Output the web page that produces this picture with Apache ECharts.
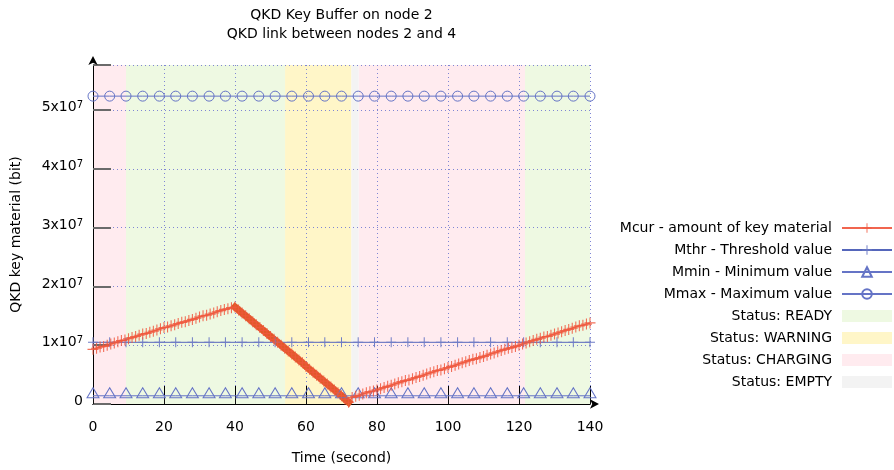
<!DOCTYPE html>
<html>
<head>
<meta charset="utf-8">
<script src="https://cdn.jsdelivr.net/npm/echarts@6/dist/echarts.min.js"></script>
<style>
  html, body { margin: 0; padding: 0; background: #fff; }
  #chart { width: 894px; height: 470px; }
</style>
</head>
<body>
<div id="chart"></div>
<script>
// values in Mbit (1e6 bit); Mcur sampled once per second, t = 0..140
const mcur = [
  9.3, 9.5, 9.7, 9.8, 10.0, 10.2, 10.4, 10.6, 10.8, 10.9,
  11.1, 11.3, 11.5, 11.7, 11.9, 12.0, 12.2, 12.4, 12.6, 12.8,
  13.0, 13.1, 13.3, 13.5, 13.7, 13.9, 14.0, 14.2, 14.4, 14.6,
  14.8, 15.0, 15.1, 15.3, 15.5, 15.7, 15.9, 16.1, 16.2, 16.4,
  16.5, 16.0, 15.5, 15.0, 14.5, 14.0, 13.5, 13.0, 12.5, 12.0,
  11.5, 11.0, 10.5, 10.0, 9.5, 9.0, 8.5, 8.0, 7.5, 7.0,
  6.4, 5.9, 5.4, 4.9, 4.4, 3.9, 3.4, 2.9, 2.4, 1.9,
  1.4, 0.8, 0.3, 1.1, 1.3, 1.5, 1.7, 1.9, 2.1, 2.2,
  2.4, 2.6, 2.8, 3.0, 3.2, 3.4, 3.6, 3.8, 4.0, 4.1,
  4.3, 4.5, 4.7, 4.9, 5.1, 5.3, 5.5, 5.7, 5.8, 6.0,
  6.2, 6.4, 6.6, 6.8, 7.0, 7.2, 7.4, 7.6, 7.7, 7.9,
  8.1, 8.3, 8.5, 8.7, 8.9, 9.1, 9.3, 9.5, 9.6, 9.8,
  10.0, 10.2, 10.4, 10.6, 10.8, 11.0, 11.2, 11.4, 11.5, 11.7,
  11.9, 12.1, 12.3, 12.5, 12.7, 12.9, 13.1, 13.3, 13.4, 13.6,
  13.8
];
const drainStart = 40;
const drainEnd = 72;

const mthr = 10.5;
const mmin = 1.4;
const mmax = 52.4;
const markTimes = [0, 4.7, 9.3, 14, 18.7, 23.3, 28, 32.7, 37.3, 42, 46.7, 51.3, 56, 60.7, 65.3,
  70, 74.7, 79.3, 84, 88.7, 93.3, 98, 102.7, 107.3, 112, 116.7, 121.3, 126, 130.7, 135.3, 140];

const readyIntervals = [[9.3, 54.1], [121.7, 140]];
const warningIntervals = [[54.1, 72.8]];
const chargingIntervals = [[0, 9.3], [74.8, 121.7]];
const emptyIntervals = [[72.8, 74.8]];

const yMax = 57.7;

const NAME_MCUR = 'Mcur - amount of key material';
const NAME_MTHR = 'Mthr - Threshold value';
const NAME_MMIN = 'Mmin - Minimum value';
const NAME_MMAX = 'Mmax - Maximum value';

const crossPath = 'path://M4.5,0h1v4.5h4.5v1h-4.5v4.5h-1v-4.5h-4.5v-1h4.5z';
const font = 'DejaVu Sans';
const fs = 14;

const mcurData = mcur.map((v, t) => [t, v]);
const drainData = mcurData.slice(drainStart, drainEnd + 1);
const constLine = v => markTimes.map(t => [t, v]);

function bandSeries(name, color, intervals) {
  return {
    name: name,
    type: 'line',
    data: [],
    z: 0,
    color: color,
    markArea: {
      z: 0,
      silent: true,
      itemStyle: { color: color },
      data: intervals.map(iv => [{ xAxis: iv[0] }, { xAxis: iv[1] }])
    }
  };
}

// tick-only axes shifted 9px into the plot, so their outward ticks end on the frame
function tickXAxis(position, color) {
  return {
    type: 'value', position: position, offset: -9, min: 0, max: 140, interval: 20, z: 3,
    axisLine: { show: false },
    axisTick: { show: true, length: 9, lineStyle: { color: color, width: 1 } },
    axisLabel: { show: false }, splitLine: { show: false }
  };
}
function tickYAxis(position, color) {
  return {
    type: 'value', position: position, offset: -9, min: 0, max: yMax, interval: 10, z: 1,
    axisLine: { show: false },
    axisTick: { show: true, length: 9, lineStyle: { color: color, width: 2 } },
    axisLabel: { show: false }, splitLine: { show: false }
  };
}

const chart = echarts.init(document.getElementById('chart'), null, { renderer: 'canvas' });

const gridLine = () => ({ show: true, lineStyle: { color: '#7f86d4', type: [1, 3], width: 1 } });
const arrowLine = () => ({ show: true, symbol: ['none', 'arrow'], symbolSize: [7, 9], symbolOffset: [0, 9], lineStyle: { color: '#000', width: 1 } });

chart.setOption({
  animation: false,
  textStyle: { fontFamily: font },
  title: {
    text: 'QKD Key Buffer on node 2\nQKD link between nodes 2 and 4',
    left: 341.5,
    top: 6,
    padding: 0,
    textAlign: 'center',
    textStyle: { fontSize: fs, fontWeight: 'normal', color: '#000', lineHeight: 19, fontFamily: font }
  },
  legend: {
    orient: 'vertical',
    right: 1,
    top: 221,
    padding: 0,
    align: 'right',
    itemWidth: 50,
    itemHeight: 12,
    itemGap: 8,
    textStyle: { fontSize: fs, color: '#000', fontFamily: font, padding: [0, 5, 0, 0] },
    data: [
      NAME_MCUR, NAME_MTHR, NAME_MMIN, NAME_MMAX,
      { name: 'Status: READY', icon: 'rect' },
      { name: 'Status: WARNING', icon: 'rect' },
      { name: 'Status: CHARGING', icon: 'rect' },
      { name: 'Status: EMPTY', icon: 'rect' }
    ]
  },
  grid: { left: 93, right: 304, top: 65, bottom: 65 },
  xAxis: [{
    type: 'value',
    position: 'bottom',
    min: 0, max: 140, interval: 20,
    z: 1,
    name: 'Time (second)',
    nameLocation: 'middle',
    nameGap: 47,
    nameTextStyle: { fontSize: fs, color: '#000', fontFamily: font },
    axisLine: arrowLine(),
    axisTick: { show: false },
    axisLabel: { fontSize: fs, color: '#000', margin: 16 },
    splitLine: gridLine()
  }, {
    type: 'value',
    position: 'top',
    min: 0, max: 140, interval: 20,
    z: 1,
    axisLine: { show: true, lineStyle: { color: '#000', width: 1 } },
    axisTick: { show: false },
    axisLabel: { show: false },
    splitLine: { show: false }
  },
  tickXAxis('bottom', '#111'),
  tickXAxis('top', '#000')],
  yAxis: [{
    type: 'value',
    position: 'left',
    min: 0, max: yMax, interval: 10,
    z: 1,
    name: 'QKD key material (bit)',
    nameLocation: 'middle',
    nameGap: 70,
    nameTextStyle: { fontSize: fs, color: '#000', fontFamily: font },
    axisLine: arrowLine(),
    axisTick: { show: false },
    axisLabel: {
      showMaxLabel: false,
      margin: 10,
      padding: [0, 0, 5, 0],
      formatter: v => v === 0 ? '{a|0}' : '{m|' + (v / 10) + 'x10}{sup|7}',
      rich: {
        a: { fontSize: fs, color: '#000', fontFamily: font, lineHeight: 14 },
        m: { fontSize: fs, color: '#000', fontFamily: font, lineHeight: 14, padding: [5, 0, 0, 0], verticalAlign: 'bottom' },
        sup: { fontSize: 10, color: '#000', fontFamily: font, lineHeight: 10, verticalAlign: 'top' }
      }
    },
    splitLine: gridLine()
  }, {
    type: 'value',
    position: 'right',
    min: 0, max: yMax, interval: 10,
    z: 1,
    axisLine: { show: true, lineStyle: { color: '#000', width: 1 } },
    axisTick: { show: false },
    axisLabel: { show: false },
    splitLine: { show: false }
  },
  tickYAxis('left', '#6a6a6a'),
  tickYAxis('right', '#6a6a6a')],
  series: [
    bandSeries('Status: READY', '#eef9e2', readyIntervals),
    bandSeries('Status: WARNING', '#fff6c8', warningIntervals),
    bandSeries('Status: CHARGING', '#ffebef', chargingIntervals),
    bandSeries('Status: EMPTY', '#f3f3f3', emptyIntervals),
    {
      name: NAME_MMAX,
      type: 'line',
      data: constLine(mmax),
      symbol: 'circle',
      symbolSize: 10,
      lineStyle: { color: '#6574c6', width: 1 },
      itemStyle: { color: 'rgba(0,0,0,0)', borderColor: '#6574c6', borderWidth: 1 }
    },
    {
      name: NAME_MMIN,
      type: 'line',
      data: constLine(mmin),
      symbol: 'triangle',
      symbolSize: [12, 10],
      symbolOffset: [0, -3],
      lineStyle: { color: '#6574c6', width: 1 },
      itemStyle: { color: 'rgba(0,0,0,0)', borderColor: '#6574c6', borderWidth: 1 }
    },
    {
      name: NAME_MTHR,
      type: 'line',
      data: constLine(mthr),
      symbol: crossPath,
      symbolSize: 10,
      lineStyle: { color: '#5566bb', width: 1 },
      itemStyle: { color: '#6f7cc6' }
    },
    {
      name: NAME_MCUR,
      type: 'line',
      data: mcurData,
      symbol: crossPath,
      symbolSize: 11,
      lineStyle: { color: '#ee4a30', width: 1.5, opacity: 0.85 },
      itemStyle: { color: '#f0583e', opacity: 0.85 }
    },
    {
      name: NAME_MCUR,
      type: 'line',
      data: drainData,
      symbol: 'none',
      lineStyle: { color: '#e05a28', width: 7, cap: 'square' },
      itemStyle: { color: '#e05a28' }
    }
  ]
});
</script>
</body>
</html>
